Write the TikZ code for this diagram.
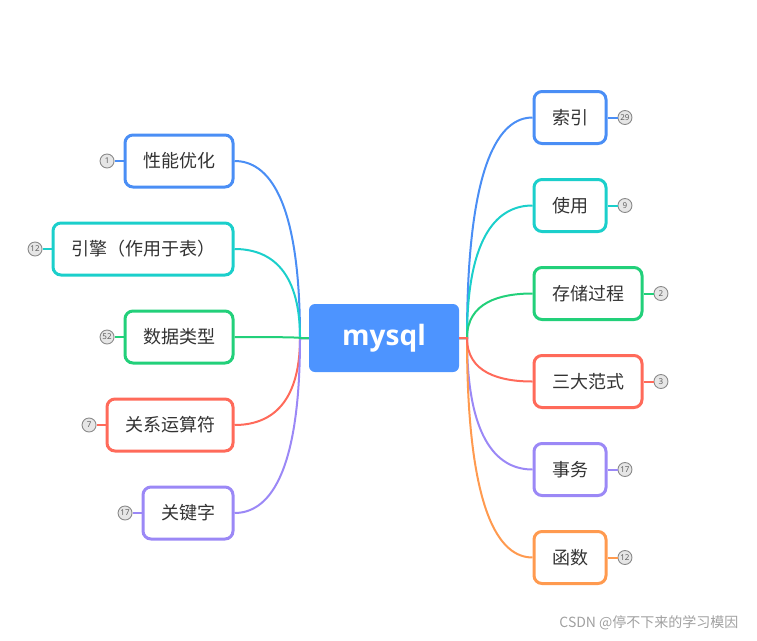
\documentclass[tikz,border=0pt]{standalone}
\usepackage{fontspec}
\usepackage{tikz}
\usetikzlibrary{calc}
\usetikzlibrary{positioning}

\newfontfamily\cjk{Noto Sans CJK SC}
\newfontfamily\latinsans{Open Sans}

\definecolor{mmblue}{HTML}{4A8EF5}
\definecolor{mmcyan}{HTML}{1BCFCB}
\definecolor{mmgreen}{HTML}{22D07A}
\definecolor{mmred}{HTML}{FF6A5A}
\definecolor{mmpurple}{HTML}{9B88F6}
\definecolor{mmorange}{HTML}{FF9A4F}
\definecolor{mmcore}{HTML}{4D94FF}
\definecolor{textgray}{HTML}{333333}
\definecolor{badgeline}{HTML}{8A8A8A}
\definecolor{badgefill}{HTML}{E6E6E6}
\definecolor{badgetext}{HTML}{555555}
\definecolor{wmgray}{HTML}{A0A0A0}

\tikzset{
  topic/.style={draw=#1, line width=3pt, rounded corners=8pt, fill=white,
    text=textgray, font=\cjk\fontsize{18}{20}\selectfont,
    inner xsep=18pt, inner ysep=0pt, minimum height=52pt},
  badge/.style={circle, draw=badgeline, fill=badgefill, line width=0.9pt,
    inner sep=0pt, minimum size=14pt, text=badgetext,
    font=\latinsans\fontsize{8}{8}\selectfont},
  stub/.style={draw=#1, line width=2pt},
  branch/.style={draw=#1, line width=2pt,
    to path={.. controls ($(\tikztostart)!0.8!(\tikztostart |- \tikztotarget)$)
      and ($(\tikztotarget)!0.5!(\tikztostart |- \tikztotarget)$) .. (\tikztotarget)}},
}

\begin{document}
\begin{tikzpicture}[x=1pt,y=1pt]
            \useasboundingbox (0,0) rectangle (757,-640);

            % centre topic
            \node[fill=mmcore, rounded corners=6pt, minimum width=150pt, minimum height=68pt,
                  text=white, font=\latinsans\bfseries\fontsize{28}{30}\selectfont] (core) at (384,-338) {mysql};
            \coordinate (hubL) at (300,-338);
            \coordinate (hubR) at (467,-338);

            % left side
            \node[topic=mmblue, anchor=east] (perf) at (234.5,-161) {性能优化};
            \node[topic=mmcyan, anchor=east] (engine) at (234.5,-249) {引擎（作用于表）};
            \node[topic=mmgreen, anchor=east] (types) at (234.5,-337) {数据类型};
            \node[topic=mmred, anchor=east] (relop) at (234.5,-425) {关系运算符};
            \node[topic=mmpurple, anchor=east] (keyw) at (234.5,-513) {关键字};

            % right side
            \node[topic=mmblue, anchor=west] (index) at (532.5,-117.5) {索引};
            \node[topic=mmcyan, anchor=west] (usage) at (532.5,-205.5) {使用};
            \node[topic=mmgreen, anchor=west] (proc) at (532.5,-293.5) {存储过程};
            \node[topic=mmred, anchor=west] (forms) at (532.5,-381.5) {三大范式};
            \node[topic=mmpurple, anchor=west] (trans) at (532.5,-469.5) {事务};
            \node[topic=mmorange, anchor=west] (func) at (532.5,-557.5) {函数};

            % counters
            \node[badge, left=9pt of perf] (perfn) {1};
            \node[badge, left=9pt of engine] (enginen) {12};
            \node[badge, left=9pt of types] (typesn) {52};
            \node[badge, left=9pt of relop] (relopn) {7};
            \node[badge, left=9pt of keyw] (keywn) {17};
            \node[badge, right=10pt of index] (indexn) {29};
            \node[badge, right=10pt of usage] (usagen) {9};
            \node[badge, right=10pt of proc] (procn) {2};
            \node[badge, right=10pt of forms] (formsn) {3};
            \node[badge, right=10pt of trans] (transn) {17};
            \node[badge, right=10pt of func] (funcn) {12};

            \draw[stub=mmblue] (perf) -- (perfn);
            \draw[stub=mmcyan] (engine) -- (enginen);
            \draw[stub=mmgreen] (types) -- (typesn);
            \draw[stub=mmred] (relop) -- (relopn);
            \draw[stub=mmpurple] (keyw) -- (keywn);
            \draw[stub=mmblue] (index) -- (indexn);
            \draw[stub=mmcyan] (usage) -- (usagen);
            \draw[stub=mmgreen] (proc) -- (procn);
            \draw[stub=mmred] (forms) -- (formsn);
            \draw[stub=mmpurple] (trans) -- (transn);
            \draw[stub=mmorange] (func) -- (funcn);

            % branches
            \draw[branch=mmblue] (core.west) -- (hubL) to (perf.east);
            \draw[branch=mmcyan] (core.west) -- (hubL) to (engine.east);
            \draw[branch=mmred] (core.west) -- (hubL) to (relop.east);
            \draw[branch=mmpurple] (core.west) -- (hubL) to (keyw.east);
            \draw[branch=mmgreen] (core.west) -- (hubL) to (types.east);
            \draw[branch=mmblue] (core.east) -- (hubR) to (index.west);
            \draw[branch=mmcyan] (core.east) -- (hubR) to (usage.west);
            \draw[branch=mmgreen] (core.east) -- (hubR) to (proc.west);
            \draw[branch=mmpurple] (core.east) -- (hubR) to (trans.west);
            \draw[branch=mmorange] (core.east) -- (hubR) to (func.west);
            \draw[branch=mmred] (core.east) -- (hubR) to (forms.west);

            \node[anchor=east, text=wmgray, font=\cjk\fontsize{14}{14}\selectfont] (mark) at (742,-623) {CSDN @停不下来的学习模因};
        \end{tikzpicture}
\end{document}
